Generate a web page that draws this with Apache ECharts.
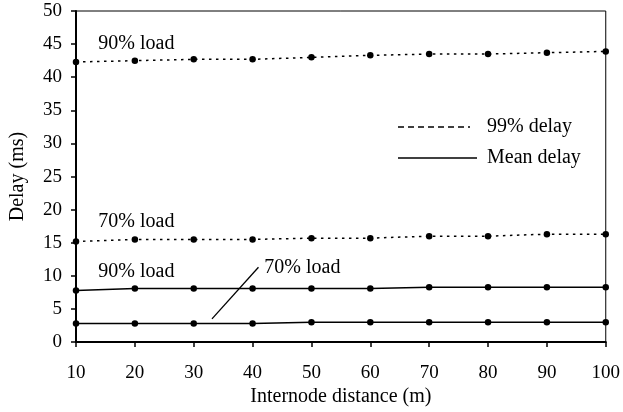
<!DOCTYPE html>
<html><head><meta charset="utf-8">
<script src="https://cdn.jsdelivr.net/npm/echarts@6/dist/echarts.min.js"></script>
<style>html,body{margin:0;padding:0;background:#fff}#chart{width:623px;height:412px}</style>
</head><body><div id="chart"></div>
<script>
// Internode distance (m)
const distances = [10, 20, 30, 40, 50, 60, 70, 80, 90, 100];
// 99th percentile delay (ms)
const p99Load90 = [42.3, 42.5, 42.7, 42.7, 43.0, 43.3, 43.5, 43.5, 43.7, 43.9];
const p99Load70 = [15.2, 15.5, 15.5, 15.5, 15.7, 15.7, 16.0, 16.0, 16.3, 16.3];
// Mean delay (ms)
const meanLoad90 = [7.8, 8.1, 8.1, 8.1, 8.1, 8.1, 8.3, 8.3, 8.3, 8.3];
const meanLoad70 = [2.8, 2.8, 2.8, 2.8, 3.0, 3.0, 3.0, 3.0, 3.0, 3.0];

// Curve labels, anchored in data coordinates (left edge, vertical middle)
const curveLabels = [
  { text: '90% load', x: 13.8, y: 45.0 },
  { text: '70% load', x: 13.8, y: 18.1 },
  { text: '90% load', x: 13.8, y: 10.6 },
  { text: '70% load', x: 42.0, y: 11.3 }
];
// Leader from the lower "70% load" label down to its curve
const leader = [[41.0, 11.3], [33.1, 3.5]];

const FONT = '"Liberation Serif", "Times New Roman", serif';
const pair = arr => distances.map((d, i) => [d, arr[i]]);

const dotted = { color: '#000', width: 1.5, type: [2.5, 4.5] };
const solid = { color: '#000', width: 1.5, type: 'solid' };

function lineSeries(name, data, style) {
  return {
    name, type: 'line', data: pair(data),
    symbol: 'circle', symbolSize: 6.5,
    itemStyle: { color: '#000' },
    lineStyle: style, animation: false, z: 3
  };
}

const chart = echarts.init(document.getElementById('chart'), null, { renderer: 'canvas' });
const series = [
  lineSeries('99% delay, 90% load', p99Load90, dotted),
  lineSeries('99% delay, 70% load', p99Load70, dotted),
  lineSeries('Mean delay, 90% load', meanLoad90, solid),
  lineSeries('Mean delay, 70% load', meanLoad70, solid)
];
series[3].markLine = {
  silent: true, symbol: 'none', animation: false,
  lineStyle: { color: '#000', width: 1.3, type: 'solid' },
  label: { show: false },
  data: [[{ coord: leader[0] }, { coord: leader[1] }]]
};

chart.setOption({
  backgroundColor: '#fff',
  animation: false,
  grid: { left: 73, right: 17, top: 11, bottom: 69, show: true, borderColor: '#000', borderWidth: 1 },
  xAxis: {
    type: 'value', min: 10, max: 100, interval: 10,
    name: 'Internode distance (m)', nameLocation: 'middle', nameGap: 43,
    nameTextStyle: { fontFamily: FONT, fontSize: 20, color: '#000' },
    axisLine: { show: true, lineStyle: { color: '#000', width: 2 } },
    axisTick: { show: true, length: 5, inside: false, lineStyle: { color: '#000', width: 1.5 } },
    axisLabel: { fontFamily: FONT, fontSize: 19, color: '#000', margin: 21 },
    splitLine: { show: false }
  },
  yAxis: {
    type: 'value', min: 0, max: 50, interval: 5,
    name: 'Delay (ms)', nameLocation: 'middle', nameGap: 48, nameRotate: 90,
    nameTextStyle: { fontFamily: FONT, fontSize: 20, color: '#000' },
    axisLine: { show: true, lineStyle: { color: '#000', width: 2 } },
    axisTick: { show: true, length: 5, inside: false, lineStyle: { color: '#000', width: 1.5 } },
    axisLabel: { fontFamily: FONT, fontSize: 19, color: '#000', margin: 14 },
    splitLine: { show: false }
  },
  series
});

// Curve labels and the key, placed after the axes exist
const graphics = curveLabels.map(l => {
  const p = chart.convertToPixel({ gridIndex: 0 }, [l.x, l.y]);
  return {
    type: 'text', x: p[0], y: p[1], silent: true, z: 10,
    style: { text: l.text, fill: '#000', font: '20px ' + FONT, textAlign: 'left', textVerticalAlign: 'middle' }
  };
});
const keyItems = [
  { label: '99% delay', y: 127, dash: [6, 4] },
  { label: 'Mean delay', y: 158, dash: null }
];
keyItems.forEach(k => {
  graphics.push({
    type: 'line', silent: true, z: 10,
    shape: { x1: 398, y1: k.y, x2: k.dash ? 470 : 477, y2: k.y },
    style: { stroke: '#000', lineWidth: 1.5, lineDash: k.dash || null }
  });
  graphics.push({
    type: 'text', x: 487, y: k.y, silent: true, z: 10,
    style: { text: k.label, fill: '#000', font: '20px ' + FONT, textAlign: 'left', textVerticalAlign: 'middle' }
  });
});
chart.setOption({ graphic: graphics });
</script>
</body></html>
